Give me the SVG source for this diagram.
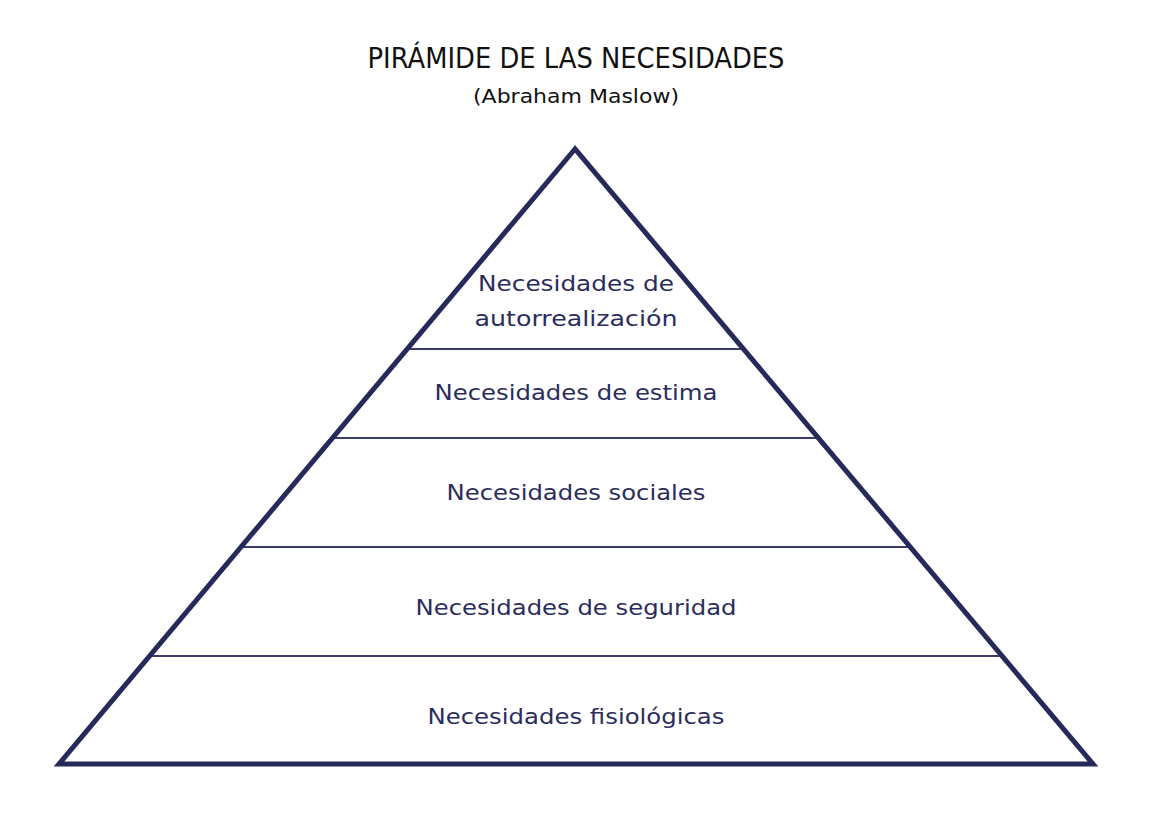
<svg xmlns="http://www.w3.org/2000/svg" width="1176" height="836" viewBox="0 0 1176 836">
<style>
.title{font-family:"DejaVu Sans","Liberation Sans",sans-serif;fill:#111;text-anchor:middle;}
.lbl{font-family:"DejaVu Sans","Liberation Sans",sans-serif;font-size:20.5px;fill:#2b2d5c;text-anchor:middle;}
.tier{stroke:#3a3c6a;stroke-width:2;}
</style>
<rect width="1176" height="836" fill="#fff"/>
<g id="title">
<text class="title" x="576" y="68" font-size="28" textLength="417" lengthAdjust="spacingAndGlyphs">PIRÁMIDE DE LAS NECESIDADES</text>
<text class="title" x="576" y="103" font-size="20" textLength="206" lengthAdjust="spacingAndGlyphs">(Abraham Maslow)</text>
</g>
<g id="connectors">
<line class="tier" x1="408" y1="349" x2="744" y2="349"/>
<line class="tier" x1="334" y1="438" x2="818" y2="438"/>
<line class="tier" x1="243" y1="547" x2="909" y2="547"/>
<line class="tier" x1="151" y1="656" x2="1000" y2="656"/>
</g>
<g id="pyramid">
<polygon points="575,149 59,764 1093,764" fill="none" stroke="#262a5a" stroke-width="5" stroke-linejoin="miter"/>
</g>
<g id="n1"><text class="lbl" x="576" y="291" textLength="196" lengthAdjust="spacingAndGlyphs">Necesidades de</text><text class="lbl" x="576" y="326" textLength="203" lengthAdjust="spacingAndGlyphs">autorrealización</text></g>
<g id="n2"><text class="lbl" x="576" y="400" textLength="283" lengthAdjust="spacingAndGlyphs">Necesidades de estima</text></g>
<g id="n3"><text class="lbl" x="576" y="500" textLength="259" lengthAdjust="spacingAndGlyphs">Necesidades sociales</text></g>
<g id="n4"><text class="lbl" x="576" y="615" textLength="321" lengthAdjust="spacingAndGlyphs">Necesidades de seguridad</text></g>
<g id="n5"><text class="lbl" x="576" y="724" textLength="297" lengthAdjust="spacingAndGlyphs">Necesidades fisiológicas</text></g>
</svg>
